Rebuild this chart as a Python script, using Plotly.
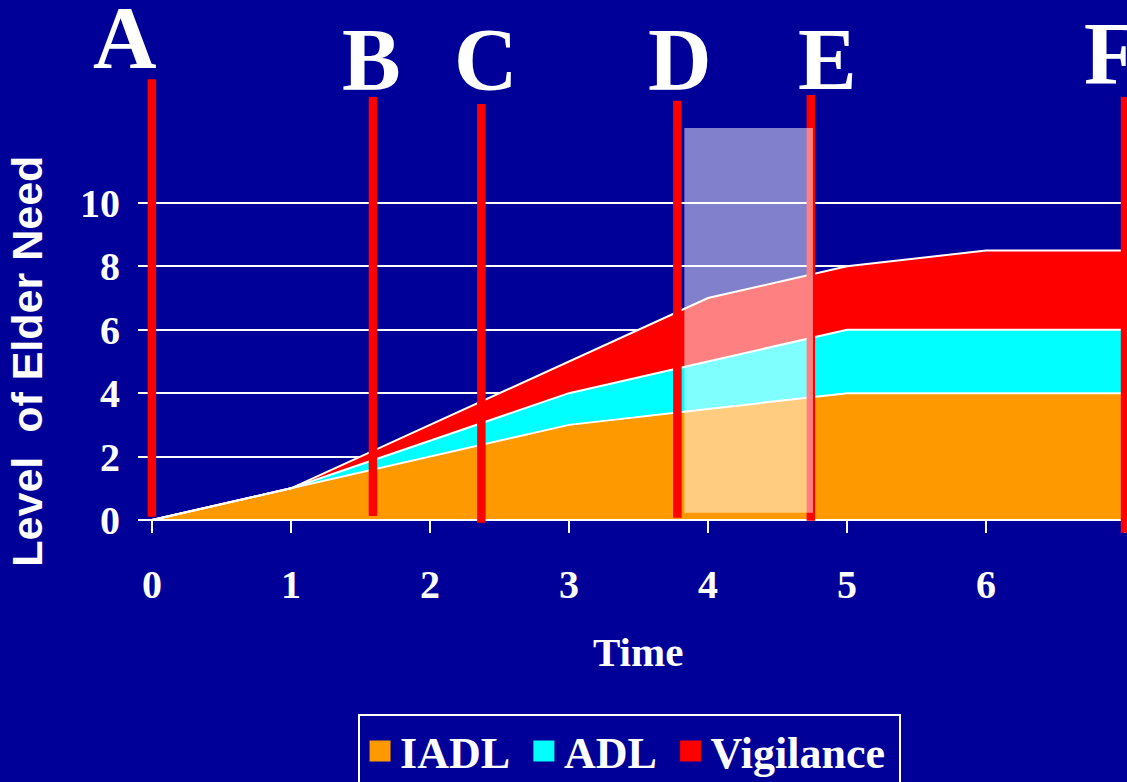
import plotly.graph_objects as go

# ---- data ----
time = [0, 1, 2, 3, 4, 5, 6, 7]
iadl = [0, 1, 2, 3, 3.5, 4, 4, 4]
adl = [0, 0, 0.5, 1, 1.5, 2, 2, 2]
vigilance = [0, 0, 0.5, 1, 2, 2, 2.5, 2.5]
series_names = ["IADL", "ADL", "Vigilance"]
series_colors = ["#FF9900", "#00FFFF", "#FF0000"]

event_labels = ["A", "B", "C", "D", "E", "F"]
event_times = [0.0, 1.59, 2.37, 3.78, 4.74, 7.0]
event_bottoms = [0.1, 0.13, -0.09, 0.07, -0.02, -0.4]
event_tops = [13.9, 13.34, 13.12, 13.22, 13.4, 13.34]
label_x = [0.05, 1.58, 2.40, 3.80, 4.86, 6.9]
label_y = [15.23, 14.53, 14.53, 14.53, 14.53, 14.7]
label_anchor = ["right", "center", "center", "center", "center", "center"]
window_x = [3.83, 4.755]
window_y = [0.23, 12.36]

y_ticks = [0, 2, 4, 6, 8, 10]

BG = "#000099"
SERIF = "Liberation Serif"
SANS = "Liberation Sans"

fig = go.Figure()

for name, vals, col in zip(series_names, [iadl, adl, vigilance], series_colors):
    fig.add_trace(go.Scatter(
        x=time, y=vals, name=name, mode="lines", stackgroup="one",
        line=dict(color="white", width=2), fillcolor=col, showlegend=False,
        hoverinfo="skip",
    ))

for name, col in zip(series_names, series_colors):
    fig.add_trace(go.Scatter(
        x=[None], y=[None], name=name + "\u2009", mode="markers",
        marker=dict(symbol="square", size=16, color=col,
                    line=dict(color=col, width=5)),
        showlegend=True,
    ))

# zero axis line
fig.add_shape(type="line", xref="x", yref="y", x0=-0.1, x1=7.014, y0=0, y1=0,
              line=dict(color="white", width=2), layer="above")

# event lines
for t, b, tp in zip(event_times, event_bottoms, event_tops):
    fig.add_shape(type="line", xref="x", yref="y", x0=t, x1=t, y0=b, y1=tp,
                  line=dict(color="#FF0000", width=8.5), layer="above")

# translucent window
fig.add_shape(type="rect", xref="x", yref="y", x0=window_x[0], x1=window_x[1],
              y0=window_y[0], y1=window_y[1], fillcolor="rgba(255,255,255,0.5)",
              line=dict(width=0), layer="above")

for lab, lx, ly, anc in zip(event_labels, label_x, label_y, label_anchor):
    fig.add_annotation(x=lx, y=ly, xref="x", yref="y", text=lab, showarrow=False,
                       font=dict(family=SERIF, size=88, color="white", weight="bold"),
                       xanchor=anc, yanchor="middle")

fig.add_annotation(x=-0.112, y=5, xref="paper", yref="y", text="Level\u00a0 of Elder Need",
                   textangle=-90, showarrow=False,
                   font=dict(family=SANS, size=43, color="white", weight="bold"),
                   xanchor="center", yanchor="middle")
fig.add_annotation(x=3.5, y=-0.2233, xref="x", yref="paper", text="Time", showarrow=False,
                   font=dict(family=SERIF, size=41, color="white", weight="bold"),
                   xanchor="center", yanchor="middle")

fig.update_layout(
    width=1127, height=782, autosize=False,
    margin=dict(l=138, r=0, t=0, b=249),
    paper_bgcolor=BG, plot_bgcolor=BG,
    xaxis=dict(range=[-0.1, 7.014], tickvals=time, ticks="inside", ticklen=13,
               tickwidth=2, tickcolor="white", showgrid=False, zeroline=False,
               showline=False, ticklabelstandoff=24,
               tickfont=dict(family=SERIF, size=40, color="white", weight="bold")),
    yaxis=dict(range=[-0.41, 16.4], tickvals=y_ticks, ticks="", showgrid=True,
               gridcolor="white", gridwidth=2, zeroline=False, showline=False,
               ticklabelstandoff=17,
               tickfont=dict(family=SERIF, size=40, color="white", weight="bold")),
    legend=dict(orientation="h", xref="container", yref="container",
                x=0.3177, y=0.087, xanchor="left", yanchor="top",
                traceorder="normal",
                bgcolor=BG, bordercolor="white", borderwidth=2,
                font=dict(family=SERIF, size=44, color="white", weight="bold")),
    showlegend=True,
)

fig.write_html("out.html", config={"displayModeBar": False},
               post_script="document.body.style.margin='0';document.body.style.padding='0';")
